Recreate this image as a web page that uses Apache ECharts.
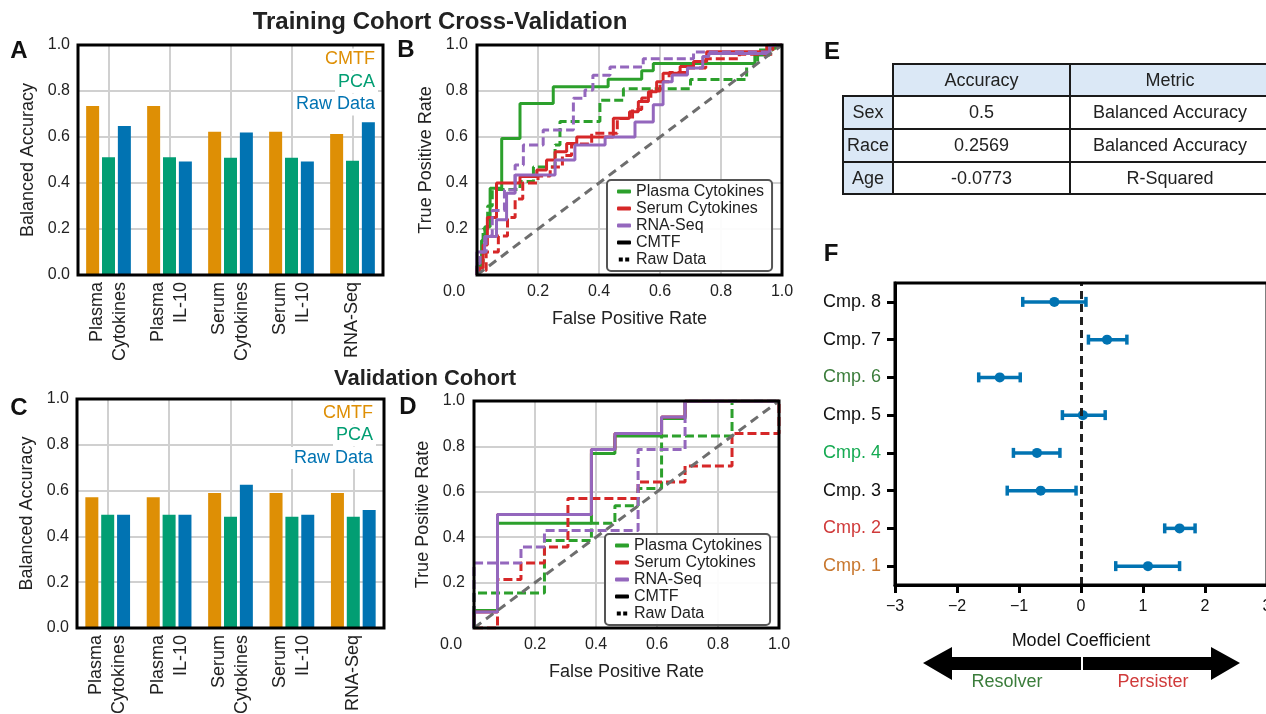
<!DOCTYPE html>
<html>
<head>
<meta charset="utf-8">
<script src="https://cdn.jsdelivr.net/npm/echarts@6/dist/echarts.min.js"></script>
<style>
  html, body { margin: 0; padding: 0; background: #fff; }
  #chart { width: 1266px; height: 714px; }
</style>
</head>
<body>
<div id="chart"></div>
<script>
// bar panels (A training, C validation)
const categories = ['Plasma\nCytokines', 'Plasma\nIL-10', 'Serum\nCytokines', 'Serum\nIL-10', 'RNA-Seq']
const trainCmtf = [0.735, 0.735, 0.623, 0.623, 0.613]
const trainPca = [0.512, 0.512, 0.51, 0.51, 0.497]
const trainRaw = [0.648, 0.493, 0.62, 0.493, 0.664]
const validCmtf = [0.571, 0.571, 0.59, 0.59, 0.59]
const validPca = [0.495, 0.495, 0.486, 0.486, 0.486]
const validRaw = [0.495, 0.495, 0.626, 0.495, 0.515]

// ROC curves, training cohort (B)
const bPlasmaCmtfFpr = [0, 0, 0.015, 0.015, 0.026, 0.026, 0.043, 0.043, 0.081, 0.081, 0.141, 0.141, 0.25, 0.25, 0.43, 0.43, 0.54, 0.54, 0.578, 0.578, 0.911, 0.911, 0.96, 0.96, 0.98, 0.98, 1]
const bPlasmaCmtfTpr = [0, 0.04, 0.04, 0.15, 0.15, 0.21, 0.21, 0.377, 0.377, 0.594, 0.594, 0.746, 0.746, 0.819, 0.819, 0.851, 0.851, 0.888, 0.888, 0.92, 0.92, 0.957, 0.957, 0.986, 0.986, 1, 1]
const bPlasmaRawFpr = [0, 0, 0.02, 0.02, 0.035, 0.035, 0.05, 0.05, 0.141, 0.141, 0.185, 0.185, 0.256, 0.256, 0.272, 0.272, 0.403, 0.403, 0.48, 0.48, 0.7, 0.7, 0.884, 0.884, 0.92, 0.92, 0.97, 0.97, 1]
const bPlasmaRawTpr = [0, 0.05, 0.05, 0.2, 0.2, 0.3, 0.3, 0.372, 0.372, 0.406, 0.406, 0.47, 0.47, 0.565, 0.565, 0.667, 0.667, 0.76, 0.76, 0.81, 0.81, 0.85, 0.85, 0.92, 0.92, 0.978, 0.978, 1, 1]
const bSerumCmtfFpr = [0, 0, 0.02, 0.02, 0.034, 0.034, 0.064, 0.064, 0.141, 0.141, 0.196, 0.196, 0.228, 0.228, 0.256, 0.256, 0.294, 0.294, 0.327, 0.327, 0.447, 0.447, 0.5, 0.5, 0.529, 0.529, 0.562, 0.562, 0.589, 0.589, 0.61, 0.61, 0.666, 0.666, 0.71, 0.71, 0.753, 0.753, 0.95, 0.95, 1]
const bSerumCmtfTpr = [0, 0.03, 0.03, 0.13, 0.13, 0.25, 0.25, 0.4, 0.4, 0.428, 0.428, 0.457, 0.457, 0.5, 0.5, 0.536, 0.536, 0.572, 0.572, 0.6, 0.6, 0.681, 0.681, 0.71, 0.71, 0.754, 0.754, 0.797, 0.797, 0.84, 0.84, 0.877, 0.877, 0.906, 0.906, 0.928, 0.928, 0.971, 0.971, 1, 1]
const bSerumRawFpr = [0, 0, 0.03, 0.03, 0.07, 0.07, 0.1, 0.1, 0.125, 0.125, 0.15, 0.15, 0.2, 0.2, 0.24, 0.24, 0.28, 0.28, 0.31, 0.31, 0.376, 0.376, 0.46, 0.46, 0.51, 0.51, 0.54, 0.54, 0.57, 0.57, 0.6, 0.6, 0.63, 0.63, 0.69, 0.69, 0.75, 0.75, 0.86, 0.86, 0.97, 0.97, 1]
const bSerumRawTpr = [0, 0.02, 0.02, 0.1, 0.1, 0.17, 0.17, 0.25, 0.25, 0.33, 0.33, 0.4, 0.4, 0.43, 0.43, 0.47, 0.47, 0.52, 0.52, 0.57, 0.57, 0.616, 0.616, 0.68, 0.68, 0.72, 0.72, 0.77, 0.77, 0.8, 0.8, 0.84, 0.84, 0.88, 0.88, 0.9, 0.9, 0.94, 0.94, 0.96, 0.96, 1, 1]
const bRnaCmtfFpr = [0, 0, 0.025, 0.025, 0.064, 0.064, 0.097, 0.097, 0.125, 0.125, 0.256, 0.256, 0.321, 0.321, 0.42, 0.42, 0.518, 0.518, 0.578, 0.578, 0.61, 0.61, 0.64, 0.64, 0.69, 0.69, 0.74, 0.74, 0.76, 0.76, 0.96, 0.96, 1]
const bRnaCmtfTpr = [0, 0.1, 0.1, 0.167, 0.167, 0.24, 0.24, 0.355, 0.355, 0.435, 0.435, 0.5, 0.5, 0.565, 0.565, 0.6, 0.6, 0.665, 0.665, 0.74, 0.74, 0.84, 0.84, 0.87, 0.87, 0.9, 0.9, 0.95, 0.95, 0.963, 0.963, 1, 1]
const bRnaRawFpr = [0, 0, 0.01, 0.01, 0.03, 0.03, 0.05, 0.05, 0.09, 0.09, 0.125, 0.125, 0.152, 0.152, 0.217, 0.217, 0.316, 0.316, 0.354, 0.354, 0.38, 0.38, 0.436, 0.436, 0.545, 0.545, 0.71, 0.71, 0.96, 0.96, 1]
const bRnaRawTpr = [0, 0.05, 0.05, 0.1, 0.1, 0.17, 0.17, 0.28, 0.28, 0.37, 0.37, 0.478, 0.478, 0.565, 0.565, 0.63, 0.63, 0.768, 0.768, 0.804, 0.804, 0.868, 0.868, 0.904, 0.904, 0.94, 0.94, 0.97, 0.97, 1, 1]

// ROC curves, validation cohort (D)
const dPlasmaCmtfFpr = [0, 0, 0.077, 0.077, 0.385, 0.385, 0.462, 0.462, 0.615, 0.615, 0.692, 0.692, 1]
const dPlasmaCmtfTpr = [0, 0.077, 0.077, 0.462, 0.462, 0.769, 0.769, 0.846, 0.846, 0.923, 0.923, 1, 1]
const dPlasmaRawFpr = [0, 0, 0.231, 0.231, 0.385, 0.385, 0.462, 0.462, 0.538, 0.538, 0.615, 0.615, 0.846, 0.846, 1]
const dPlasmaRawTpr = [0, 0.154, 0.154, 0.385, 0.385, 0.462, 0.462, 0.538, 0.538, 0.615, 0.615, 0.846, 0.846, 1, 1]
const dSerumCmtfFpr = [0, 0, 0.077, 0.077, 0.385, 0.385, 0.462, 0.462, 0.615, 0.615, 0.692, 0.692, 1]
const dSerumCmtfTpr = [0, 0.071, 0.071, 0.5, 0.5, 0.786, 0.786, 0.857, 0.857, 0.929, 0.929, 1, 1]
const dSerumRawFpr = [0, 0.077, 0.077, 0.154, 0.154, 0.231, 0.231, 0.308, 0.308, 0.538, 0.538, 0.692, 0.692, 0.846, 0.846, 1, 1]
const dSerumRawTpr = [0, 0, 0.214, 0.214, 0.286, 0.286, 0.357, 0.357, 0.571, 0.571, 0.643, 0.643, 0.714, 0.714, 0.857, 0.857, 1]
const dRnaCmtfFpr = [0, 0, 0.077, 0.077, 0.385, 0.385, 0.462, 0.462, 0.615, 0.615, 0.692, 0.692, 1]
const dRnaCmtfTpr = [0, 0.071, 0.071, 0.5, 0.5, 0.786, 0.786, 0.857, 0.857, 0.929, 0.929, 1, 1]
const dRnaRawFpr = [0, 0, 0.154, 0.154, 0.231, 0.231, 0.538, 0.538, 0.692, 0.692, 1]
const dRnaRawTpr = [0, 0.286, 0.286, 0.357, 0.357, 0.429, 0.429, 0.786, 0.786, 1, 1]
const diagonal = [[0, 0], [1, 1]]

// table E
const tableCols = ['Accuracy', 'Metric']
const tableRows = ['Sex', 'Race', 'Age']
const tableAccuracy = ['0.5', '0.2569', '-0.0773']
const tableMetric = ['Balanced Accuracy', 'Balanced Accuracy', 'R-Squared']

// coefficients F (bottom to top)
const cmpNames = ['Cmp. 1', 'Cmp. 2', 'Cmp. 3', 'Cmp. 4', 'Cmp. 5', 'Cmp. 6', 'Cmp. 7', 'Cmp. 8']
const coefMean = [1.08, 1.59, -0.65, -0.71, 0.03, -1.31, 0.42, -0.43]
const coefLow = [0.56, 1.35, -1.19, -1.09, -0.3, -1.65, 0.12, -0.94]
const coefHigh = [1.59, 1.84, -0.08, -0.34, 0.39, -0.98, 0.74, 0.08]

const ORANGE = '#de8f05', GREEN = '#029e73', BLUE = '#0173b2'
const ROC_GREEN = '#2ca02c', ROC_RED = '#d62728', ROC_PURPLE = '#9467bd'
const TXT = '#222'
const FONT = '"Liberation Sans", Arial, sans-serif'
const cmpColors = { 'Cmp. 1': '#c8772e', 'Cmp. 2': '#d03a3a', 'Cmp. 4': '#15aa52', 'Cmp. 6': '#3b7d3b' }

const chart = echarts.init(document.getElementById('chart'))

const pairs = (fpr, tpr) => fpr.map((x, i) => [x, tpr[i]])
const gridLine = { show: true, lineStyle: { color: '#d0d0d0', width: 2 } }

function rocLine(ax, name, color, fpr, tpr, dashed) {
	return {
		type: 'line', name, xAxisIndex: ax, yAxisIndex: ax,
		data: pairs(fpr, tpr), symbol: 'none', silent: true,
		lineStyle: { color, width: 3, type: dashed ? [9, 4] : 'solid' },
		itemStyle: { color }
	}
}
function diagLine(ax) {
	return {
		type: 'line', name: 'chance', xAxisIndex: ax, yAxisIndex: ax, data: diagonal,
		symbol: 'none', silent: true, z: 4,
		lineStyle: { color: '#6e6e6e', width: 3, type: [9, 6] }
	}
}
function bars(ax, name, color, data) {
	return {
		type: 'bar', name, xAxisIndex: ax, yAxisIndex: ax, data,
		barWidth: 13, barGap: '22%', itemStyle: { color }, silent: true
	}
}
function barX(gi) {
	return {
		type: 'category', gridIndex: gi, data: categories,
		axisLine: { show: false }, axisTick: { show: false },
		splitLine: { show: true, alignWithLabel: true, interval: 0, lineStyle: { color: '#d0d0d0', width: 2 } },
		axisLabel: { rotate: 90, interval: 0, fontSize: 18, lineHeight: 23, color: TXT, margin: 7 }
	}
}
function barY(gi) {
	return {
		type: 'value', gridIndex: gi, min: 0, max: 1, interval: 0.2,
		axisLine: { show: false }, axisTick: { show: false }, splitLine: gridLine,
		axisLabel: { formatter: v => v.toFixed(1), fontSize: 16, color: TXT, margin: 8 },
		name: 'Balanced Accuracy', nameLocation: 'middle', nameGap: 41,
		nameTextStyle: { fontSize: 18, color: TXT }
	}
}
function rocX(gi) {
	return {
		type: 'value', gridIndex: gi, min: 0, max: 1, interval: 0.2,
		axisLine: { show: false }, axisTick: { show: false }, splitLine: gridLine,
		axisLabel: {
			fontSize: 16, color: TXT, margin: 9,
			formatter: v => v === 0 ? '{z|0.0}' : v.toFixed(1),
			rich: { z: { fontSize: 16, color: TXT, padding: [0, 46, 0, 0] } }
		},
		name: 'False Positive Rate', nameLocation: 'middle', nameGap: 35,
		nameTextStyle: { fontSize: 18, color: TXT }
	}
}
function rocY(gi) {
	return {
		type: 'value', gridIndex: gi, min: 0, max: 1, interval: 0.2,
		axisLine: { show: false }, axisTick: { show: false }, splitLine: gridLine,
		axisLabel: { formatter: v => v.toFixed(1), fontSize: 16, color: TXT, margin: 9, showMinLabel: false },
		name: 'True Positive Rate', nameLocation: 'middle', nameGap: 42,
		nameTextStyle: { fontSize: 18, color: TXT }
	}
}
function rocLegend(left, top) {
	return {
		orient: 'vertical', left, top, z: 20, selectedMode: false,
		icon: 'roundRect', itemWidth: 14, itemHeight: 4, itemGap: 0,
		backgroundColor: 'rgba(255,255,255,0.92)', borderColor: '#555', borderWidth: 2, borderRadius: 4,
		padding: [3, 8, 3, 10],
		textStyle: { fontSize: 16, color: TXT, lineHeight: 17 },
		data: ['Plasma Cytokines', 'Serum Cytokines', 'RNA-Seq', 'CMTF',
			{ name: 'Raw Data', icon: 'path://M0,0H5V5H0Z M8,0H13V5H8Z' }]
	}
}
const box = (left, top, width, height) => ({
	left, top, width, height, show: true, z: 10, outerBoundsMode: 'none', containLabel: false,
	borderColor: '#000', borderWidth: 3, backgroundColor: 'transparent'
})

// graphic: panel letters, titles, bar legends, table, arrow
const g = []
const letter = (t, x, y) => g.push({ type: 'text', x, y, style: { text: t, font: 'bold 24px ' + FONT, fill: '#111', align: 'center', verticalAlign: 'middle' } })
letter('A', 19, 51); letter('B', 406, 50); letter('C', 19, 408); letter('D', 408, 407); letter('E', 832, 52); letter('F', 831, 254)
g.push({ type: 'text', x: 440, y: 22, style: { text: 'Training Cohort Cross-Validation', font: 'bold 24px ' + FONT, fill: '#222', align: 'center', verticalAlign: 'middle' } })
g.push({ type: 'text', x: 425, y: 379, style: { text: 'Validation Cohort', font: 'bold 22px ' + FONT, fill: '#222', align: 'center', verticalAlign: 'middle' } })

function barLegend(xr, y0) {
	[['CMTF', ORANGE], ['PCA', GREEN], ['Raw Data', BLUE]].forEach(([t, c], i) => {
		g.push({ type: 'text', x: xr, y: y0 + i * 22.5, z: 30, style: {
			text: t, font: '18px ' + FONT, fill: c, align: 'right', verticalAlign: 'middle',
			backgroundColor: '#fff', padding: [2, 3]
		} })
	})
}
barLegend(378, 59.5)
barLegend(376, 413)

// table E
const colX = [843, 893, 1070, 1280]
const rowY = [64, 96, 129, 162, 194]
const cellFill = '#dbe8f6'
function cell(c, r, text, fill) {
	g.push({ type: 'rect', shape: { x: colX[c], y: rowY[r], width: colX[c + 1] - colX[c], height: rowY[r + 1] - rowY[r] },
		style: { fill, stroke: '#1a1a1a', lineWidth: 2 } })
	g.push({ type: 'text', x: (colX[c] + Math.min(colX[c + 1], 1270)) / 2, y: (rowY[r] + rowY[r + 1]) / 2 + 1,
		style: { text, font: '18px ' + FONT, fill: TXT, align: 'center', verticalAlign: 'middle' }, z: 2 })
}
tableCols.forEach((t, j) => cell(j + 1, 0, t, cellFill))
tableRows.forEach((t, i) => {
	cell(0, i + 1, t, cellFill)
	cell(1, i + 1, tableAccuracy[i], '#fff')
	cell(2, i + 1, tableMetric[i], '#fff')
})

// double arrow below F
g.push({ type: 'polygon', shape: { points: [[923, 663], [952, 647], [952, 657], [1211, 657], [1211, 647], [1240, 663], [1211, 680], [1211, 670], [952, 670], [952, 680]] }, style: { fill: '#000' } })
g.push({ type: 'line', shape: { x1: 1082, y1: 656, x2: 1082, y2: 671 }, style: { stroke: '#fff', lineWidth: 2 }, z: 2 })
g.push({ type: 'text', x: 1007, y: 682, style: { text: 'Resolver', font: '18px ' + FONT, fill: '#3b7d3b', align: 'center', verticalAlign: 'middle' } })
g.push({ type: 'text', x: 1153, y: 682, style: { text: 'Persister', font: '18px ' + FONT, fill: '#d03a3a', align: 'center', verticalAlign: 'middle' } })

const option = {
	animation: false,
	backgroundColor: '#fff',
	textStyle: { fontFamily: FONT },
	grid: [
		box(78, 45, 305, 230),
		box(477, 45, 305, 230),
		box(77, 399, 307, 229),
		box(474, 401, 305, 227),
		box(895, 283, 372, 302)
	],
	xAxis: [
		barX(0), rocX(1), barX(2), rocX(3),
		{
			type: 'value', gridIndex: 4, min: -3, max: 3, interval: 1,
			axisLine: { show: true, lineStyle: { color: '#000', width: 3 } },
			axisTick: { show: true, length: 8, lineStyle: { color: '#000', width: 3 } },
			splitLine: { show: false },
			axisLabel: { fontSize: 16, color: '#111', margin: 14, formatter: v => v < 0 ? '\u2212' + Math.abs(v) : String(v) },
			name: 'Model Coefficient', nameLocation: 'middle', nameGap: 47,
			nameTextStyle: { fontSize: 18, color: '#111' }
		}
	],
	yAxis: [
		barY(0), rocY(1), barY(2), rocY(3),
		{
			type: 'category', gridIndex: 4,
			data: cmpNames.map(n => cmpColors[n] ? { value: n, textStyle: { color: cmpColors[n] } } : n),
			axisLine: { show: true, onZero: false, lineStyle: { color: '#000', width: 3 } },
			axisTick: { show: true, alignWithLabel: true, length: 8, lineStyle: { color: '#000', width: 3 } },
			axisLabel: { fontSize: 18, color: '#111', margin: 14 },
			splitLine: { show: false }
		}
	],
	legend: [rocLegend(607, 180), rocLegend(605, 534)],
	graphic: g,
	series: [
		rocLine(1, 'Plasma Cytokines', ROC_GREEN, bPlasmaCmtfFpr, bPlasmaCmtfTpr, false),
		rocLine(1, 'Plasma Cytokines', ROC_GREEN, bPlasmaRawFpr, bPlasmaRawTpr, true),
		rocLine(1, 'Serum Cytokines', ROC_RED, bSerumCmtfFpr, bSerumCmtfTpr, false),
		rocLine(1, 'Serum Cytokines', ROC_RED, bSerumRawFpr, bSerumRawTpr, true),
		rocLine(1, 'RNA-Seq', ROC_PURPLE, bRnaCmtfFpr, bRnaCmtfTpr, false),
		rocLine(1, 'RNA-Seq', ROC_PURPLE, bRnaRawFpr, bRnaRawTpr, true),
		{ type: 'line', name: 'CMTF', xAxisIndex: 1, yAxisIndex: 1, data: [], symbol: 'none', itemStyle: { color: '#000' }, lineStyle: { color: '#000', width: 4 } },
		{ type: 'line', name: 'Raw Data', xAxisIndex: 1, yAxisIndex: 1, data: [], symbol: 'none', itemStyle: { color: '#000' }, lineStyle: { color: '#000', width: 4, type: [4, 3] } },
		diagLine(1),
		rocLine(3, 'Plasma Cytokines', ROC_GREEN, dPlasmaCmtfFpr, dPlasmaCmtfTpr, false),
		rocLine(3, 'Plasma Cytokines', ROC_GREEN, dPlasmaRawFpr, dPlasmaRawTpr, true),
		rocLine(3, 'Serum Cytokines', ROC_RED, dSerumCmtfFpr, dSerumCmtfTpr, false),
		rocLine(3, 'Serum Cytokines', ROC_RED, dSerumRawFpr, dSerumRawTpr, true),
		rocLine(3, 'RNA-Seq', ROC_PURPLE, dRnaCmtfFpr, dRnaCmtfTpr, false),
		rocLine(3, 'RNA-Seq', ROC_PURPLE, dRnaRawFpr, dRnaRawTpr, true),
		diagLine(3),
		bars(0, 'CMTF', ORANGE, trainCmtf),
		bars(0, 'PCA', GREEN, trainPca),
		bars(0, 'Raw Data', BLUE, trainRaw),
		bars(2, 'CMTF', ORANGE, validCmtf),
		bars(2, 'PCA', GREEN, validPca),
		bars(2, 'Raw Data', BLUE, validRaw),
		{
			type: 'custom', name: 'coef', xAxisIndex: 4, yAxisIndex: 4, silent: true,
			data: cmpNames.map((n, i) => [coefMean[i], i, coefLow[i], coefHigh[i]]),
			encode: { x: [0, 2, 3], y: 1 },
			renderItem: (params, api) => {
				const cat = api.value(1)
				const p = api.coord([api.value(0), cat])
				const lo = api.coord([api.value(2), cat])
				const hi = api.coord([api.value(3), cat])
				const st = { stroke: BLUE, lineWidth: 3.5 }
				return {
					type: 'group', children: [
						{ type: 'line', shape: { x1: lo[0], y1: lo[1], x2: hi[0], y2: hi[1] }, style: st },
						{ type: 'line', shape: { x1: lo[0], y1: lo[1] - 5, x2: lo[0], y2: lo[1] + 5 }, style: st },
						{ type: 'line', shape: { x1: hi[0], y1: hi[1] - 5, x2: hi[0], y2: hi[1] + 5 }, style: st },
						{ type: 'circle', shape: { cx: p[0], cy: p[1], r: 5 }, style: { fill: BLUE } }
					]
				}
			},
			markLine: {
				silent: true, symbol: ['none', 'none'], label: { show: false },
				lineStyle: { color: '#222', width: 3, type: [8, 5] },
				data: [{ xAxis: 0 }]
			}
		}
	]
}
chart.setOption(option)
</script>
</body>
</html>
